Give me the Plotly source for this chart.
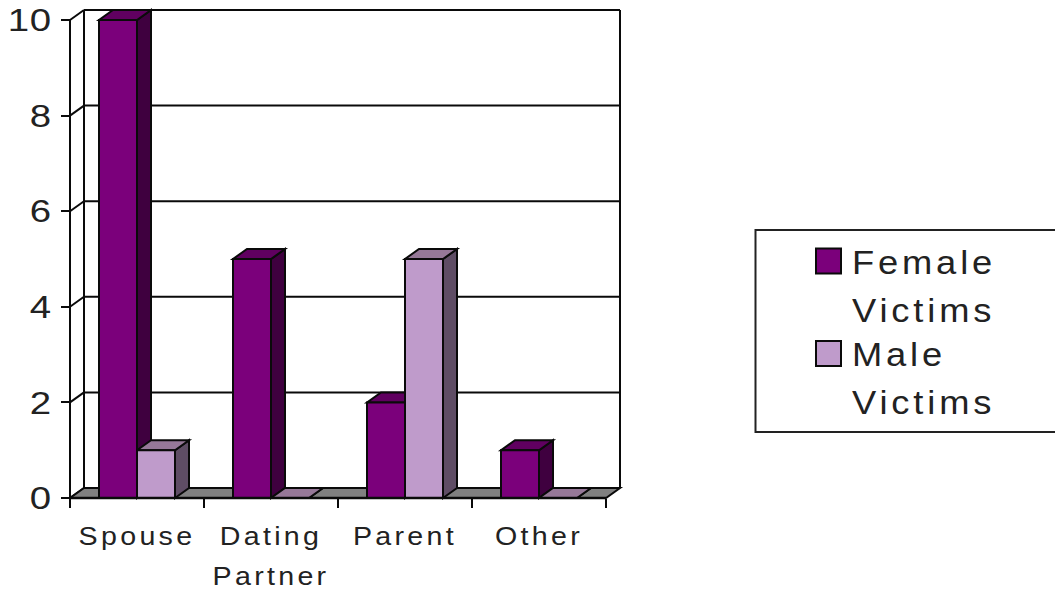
import plotly.graph_objects as go

categories = ["Spouse", "Dating<br>Partner", "Parent", "Other"]
female = [10, 5, 2, 1]
male = [1, 0, 5, 0]
y_ticks = [0, 2, 4, 6, 8, 10]
legend_names = ["Female<br>Victims", "Male<br>Victims"]

W, H = 1055, 592
PX_X = 134.0   # pixels per category
PX_Y = 47.8    # pixels per unit
X0_PX, Y0_PX = 70.0, 498.0   # pixel of category edge / zero
L_PX, R_PX, T_PX, B_PX = 60.0, 628.0, 4.0, 504.0
DX = 14.0 / PX_X
DY = 10.0 / PX_Y
BAR_W = 38.0 / PX_X
XL, XR = -0.5, 3.5
F_COL, F_SIDE, F_TOP = "#7B007B", "#3F003F", "#600060"
M_COL, M_SIDE, M_TOP = "#BF9BCB", "#5F4D65", "#967898"
INK = "#0A0A0A"
TEXT = "#222222"

x_range = [XL - (X0_PX - L_PX) / PX_X, XL + (R_PX - X0_PX) / PX_X]
y_range = [-(B_PX - Y0_PX) / PX_Y, (Y0_PX - T_PX) / PX_Y]

shapes = []


def poly(points, fill, layer="between", width=2):
    path = "M " + " L ".join(f"{x},{y}" for x, y in points) + " Z"
    shapes.append(dict(type="path", xref="x", yref="y", path=path, fillcolor=fill,
                       line=dict(color=INK, width=width), layer=layer))


def seg(x0, y0, x1, y1, layer="between", width=2):
    shapes.append(dict(type="line", xref="x", yref="y", x0=x0, y0=y0, x1=x1, y1=y1,
                       line=dict(color=INK, width=width), layer=layer))


# walls and gridlines
for v in y_ticks:
    seg(XL + DX, v + DY, XR + DX, v + DY)
    seg(XL, v, XL + DX, v + DY)
seg(XL + DX, DY, XL + DX, 10 + DY)
seg(XR + DX, DY, XR + DX, 10 + DY)
seg(XL, 0, XL, 10)
# floor
poly([(XL, 0), (XR, 0), (XR + DX, DY), (XL + DX, DY)], "#808080")

# 3D faces of the bars
for i in range(len(categories)):
    for series, x0, side, top in [(female[i], i - BAR_W, F_SIDE, F_TOP),
                                  (male[i], i, M_SIDE, M_TOP)]:
        x1 = x0 + BAR_W
        poly([(x1, 0), (x1 + DX, DY), (x1 + DX, series + DY), (x1, series)], side)
        poly([(x0, series), (x1, series), (x1 + DX, series + DY), (x0 + DX, series + DY)], top)

# front axis line
seg(XL, 0, XR, 0, layer="above", width=2.5)

# legend
shapes.append(dict(type="rect", xref="paper", yref="paper",
                   x0=755.5 / W, x1=1.01, y0=1 - 432 / H, y1=1 - 230 / H,
                   line=dict(color="#222222", width=2), fillcolor="white"))
annotations = []
for name, col, top_px in zip(legend_names, [F_COL, M_COL], [248.5, 341]):
    shapes.append(dict(type="rect", xref="paper", yref="paper",
                       x0=816 / W, x1=841 / W, y0=1 - (top_px + 25) / H, y1=1 - top_px / H,
                       fillcolor=col, line=dict(color=INK, width=2)))
    annotations.append(dict(xref="paper", yref="paper", x=852 / W, y=1 - (top_px - 5) / H,
                            xanchor="left", yanchor="top", align="left", showarrow=False,
                            text=name, borderpad=0, borderwidth=0,
                            font=dict(family="Liberation Sans", size=33, color=TEXT)))

fig = go.Figure()
fig.add_trace(go.Bar(name="Female Victims", x=categories, y=female, marker=dict(color=F_COL, line=dict(color=INK, width=2))))
fig.add_trace(go.Bar(name="Male Victims", x=categories, y=male, marker=dict(color=M_COL, line=dict(color=INK, width=2))))

fig.update_layout(
    width=W, height=H, margin=dict(l=0, r=0, t=0, b=0, autoexpand=False), paper_bgcolor="white", plot_bgcolor="white",
    barmode="group", bargap=1 - 2 * BAR_W, bargroupgap=0, showlegend=False,
    shapes=shapes, annotations=annotations,
    font=dict(family="Liberation Sans", color=TEXT),
    xaxis=dict(type="category", categoryorder="array", categoryarray=categories,
               domain=[L_PX / W, R_PX / W], range=x_range, anchor="free", position=1 - Y0_PX / H,
               tickson="boundaries", ticks="outside", ticklen=9, tickwidth=2, tickcolor=INK,
               showgrid=False, showline=False, zeroline=False, fixedrange=True,
               tickangle=0, tickfont=dict(size=26, color=TEXT), ticklabelstandoff=20),
    yaxis=dict(domain=[1 - B_PX / H, 1 - T_PX / H], range=y_range, anchor="free", position=X0_PX / W,
               tickmode="array", tickvals=y_ticks, ticktext=[str(v) for v in y_ticks],
               ticks="outside", ticklen=9, tickwidth=2, tickcolor=INK,
               showgrid=False, showline=False, zeroline=False, fixedrange=True,
               tickfont=dict(size=32, color=TEXT), ticklabelstandoff=3),
)

post = """
document.body.style.margin='0';document.body.style.overflow='hidden';
function fix(sel,sx,sp,origin,dy){document.querySelectorAll(sel).forEach(function(t){
  t.style.letterSpacing=sp;
  t.querySelectorAll('tspan.line').forEach(function(l){var d=l.getAttribute('dy');
    if(d&&parseFloat(d)>0){l.setAttribute('dy',dy);}});
  var b=t.getBBox();
  var o=origin=='l'?b.x:(origin=='r'?b.x+b.width:b.x+b.width/2);
  var old=t.getAttribute('transform')||'';
  t.setAttribute('transform',old+' translate('+o+',0) scale('+sx+',1) translate('+(-o)+',0)');
});}
fix('.xtick text',1.1,'3px','c','40px');
fix('.ytick text',1.2,'0.5px','r','0px');
fix('.annotation-text',1.1,'3.5px','l','48px');
"""
fig.write_html("out.html", post_script=post, config=dict(displayModeBar=False))
